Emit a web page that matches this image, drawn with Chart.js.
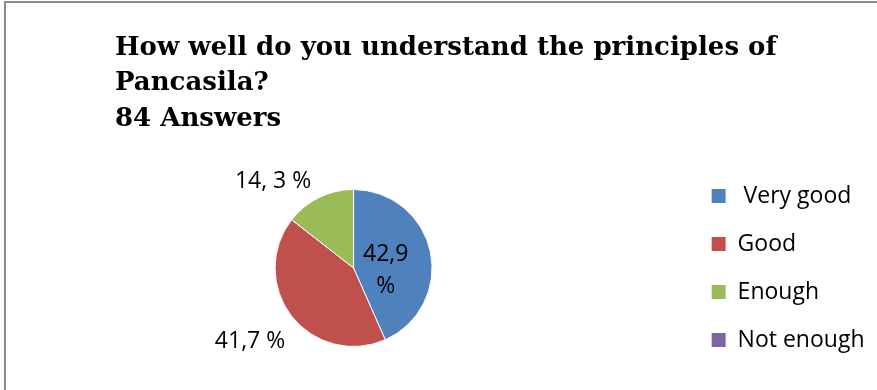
<!DOCTYPE html>
<html>
<head>
<meta charset="utf-8">
<title>Pancasila survey</title>
<script src="https://cdn.jsdelivr.net/npm/chart.js@4/dist/chart.umd.min.js"></script>
<style>
  html, body { margin: 0; padding: 0; background: #fff; }
  #wrap { position: relative; width: 877px; height: 390px; overflow: hidden; }
  #frame { position: absolute; left: 4px; top: 1px; width: 900px; height: 420px;
           border-top: 2px solid #8a8a8a; border-left: 2px solid #8a8a8a; }
  canvas { position: absolute; left: 0; top: 0; }
</style>
</head>
<body>
<div id="wrap">
  <div id="frame"></div>
  <canvas id="pie" width="877" height="390"></canvas>
</div>
<script>
// survey data
const titleLines = ['How well do you understand the principles of', 'Pancasila?', '84 Answers'];
const categories = [' Very good', 'Good', 'Enough', 'Not enough'];
const shares = [42.9, 41.7, 14.3, 0];
const shareLabels = [['42,9', '%'], ['41,7 %'], ['14, 3 %'], []];
const sliceColors = ['#4F81BD', '#C0504D', '#9BBB59', '#8064A2'];

// label spot per slice: angle shift (deg) from the slice middle, distance as share of radius
const labelPlacement = [
    { shift: 13.7, dist: 0.41 },
    { shift: 3.2, dist: 1.605 },
    { shift: -16.4, dist: 1.52 },
    null
];

const LABEL_SIZE = 23;

// heading drawn top-left, three lines
const heading = {
    id: 'heading',
    afterDraw(chart) {
        const ctx = chart.ctx;
        ctx.save();
        ctx.font = 'bold 26px "DejaVu Serif"';
        ctx.fillStyle = '#000';
        ctx.textAlign = 'left';
        ctx.textBaseline = 'alphabetic';
        titleLines.forEach((line, i) => ctx.fillText(line, 115, 54.5 + i * 35.5));
        ctx.restore();
    }
};

// percentage text next to / inside each slice
const valueLabels = {
    id: 'valueLabels',
    afterDatasetsDraw(chart) {
        const ctx = chart.ctx;
        const meta = chart.getDatasetMeta(0);
        const capHalf = LABEL_SIZE * 0.714 / 2;
        ctx.save();
        ctx.font = LABEL_SIZE + 'px "Open Sans"';
        ctx.fillStyle = '#000';
        ctx.textAlign = 'center';
        ctx.textBaseline = 'alphabetic';
        meta.data.forEach((arc, i) => {
            const place = labelPlacement[i];
            const lines = shareLabels[i];
            if (!place || !lines.length) return;
            const p = arc.getProps(['x', 'y', 'startAngle', 'endAngle', 'outerRadius'], true);
            const a = (p.startAngle + p.endAngle) / 2 + place.shift * Math.PI / 180;
            const cx = p.x + Math.cos(a) * p.outerRadius * place.dist;
            const cy = p.y + Math.sin(a) * p.outerRadius * place.dist;
            lines.forEach((t, k) => {
                const lineY = cy + (k - (lines.length - 1) / 2) * 32;
                ctx.fillText(t, cx, lineY + capHalf);
            });
        });
        ctx.restore();
    }
};

new Chart(document.getElementById('pie'), {
    type: 'pie',
    data: {
        labels: categories,
        datasets: [{
            data: shares,
            backgroundColor: sliceColors,
            borderColor: '#fff',
            borderWidth: 1,
            radius: 78.5
        }]
    },
    options: {
        responsive: false,
        animation: false,
        layout: { padding: { left: 21, right: 2.5, top: 150, bottom: 4 } },
        plugins: {
            legend: {
                position: 'right',
                labels: {
                    boxWidth: 15,
                    boxHeight: 15,
                    padding: 25,
                    color: '#000',
                    font: { family: 'Open Sans', size: LABEL_SIZE }
                }
            },
            title: { display: false },
            tooltip: { enabled: false }
        }
    },
    plugins: [heading, valueLabels]
});
</script>
</body>
</html>
